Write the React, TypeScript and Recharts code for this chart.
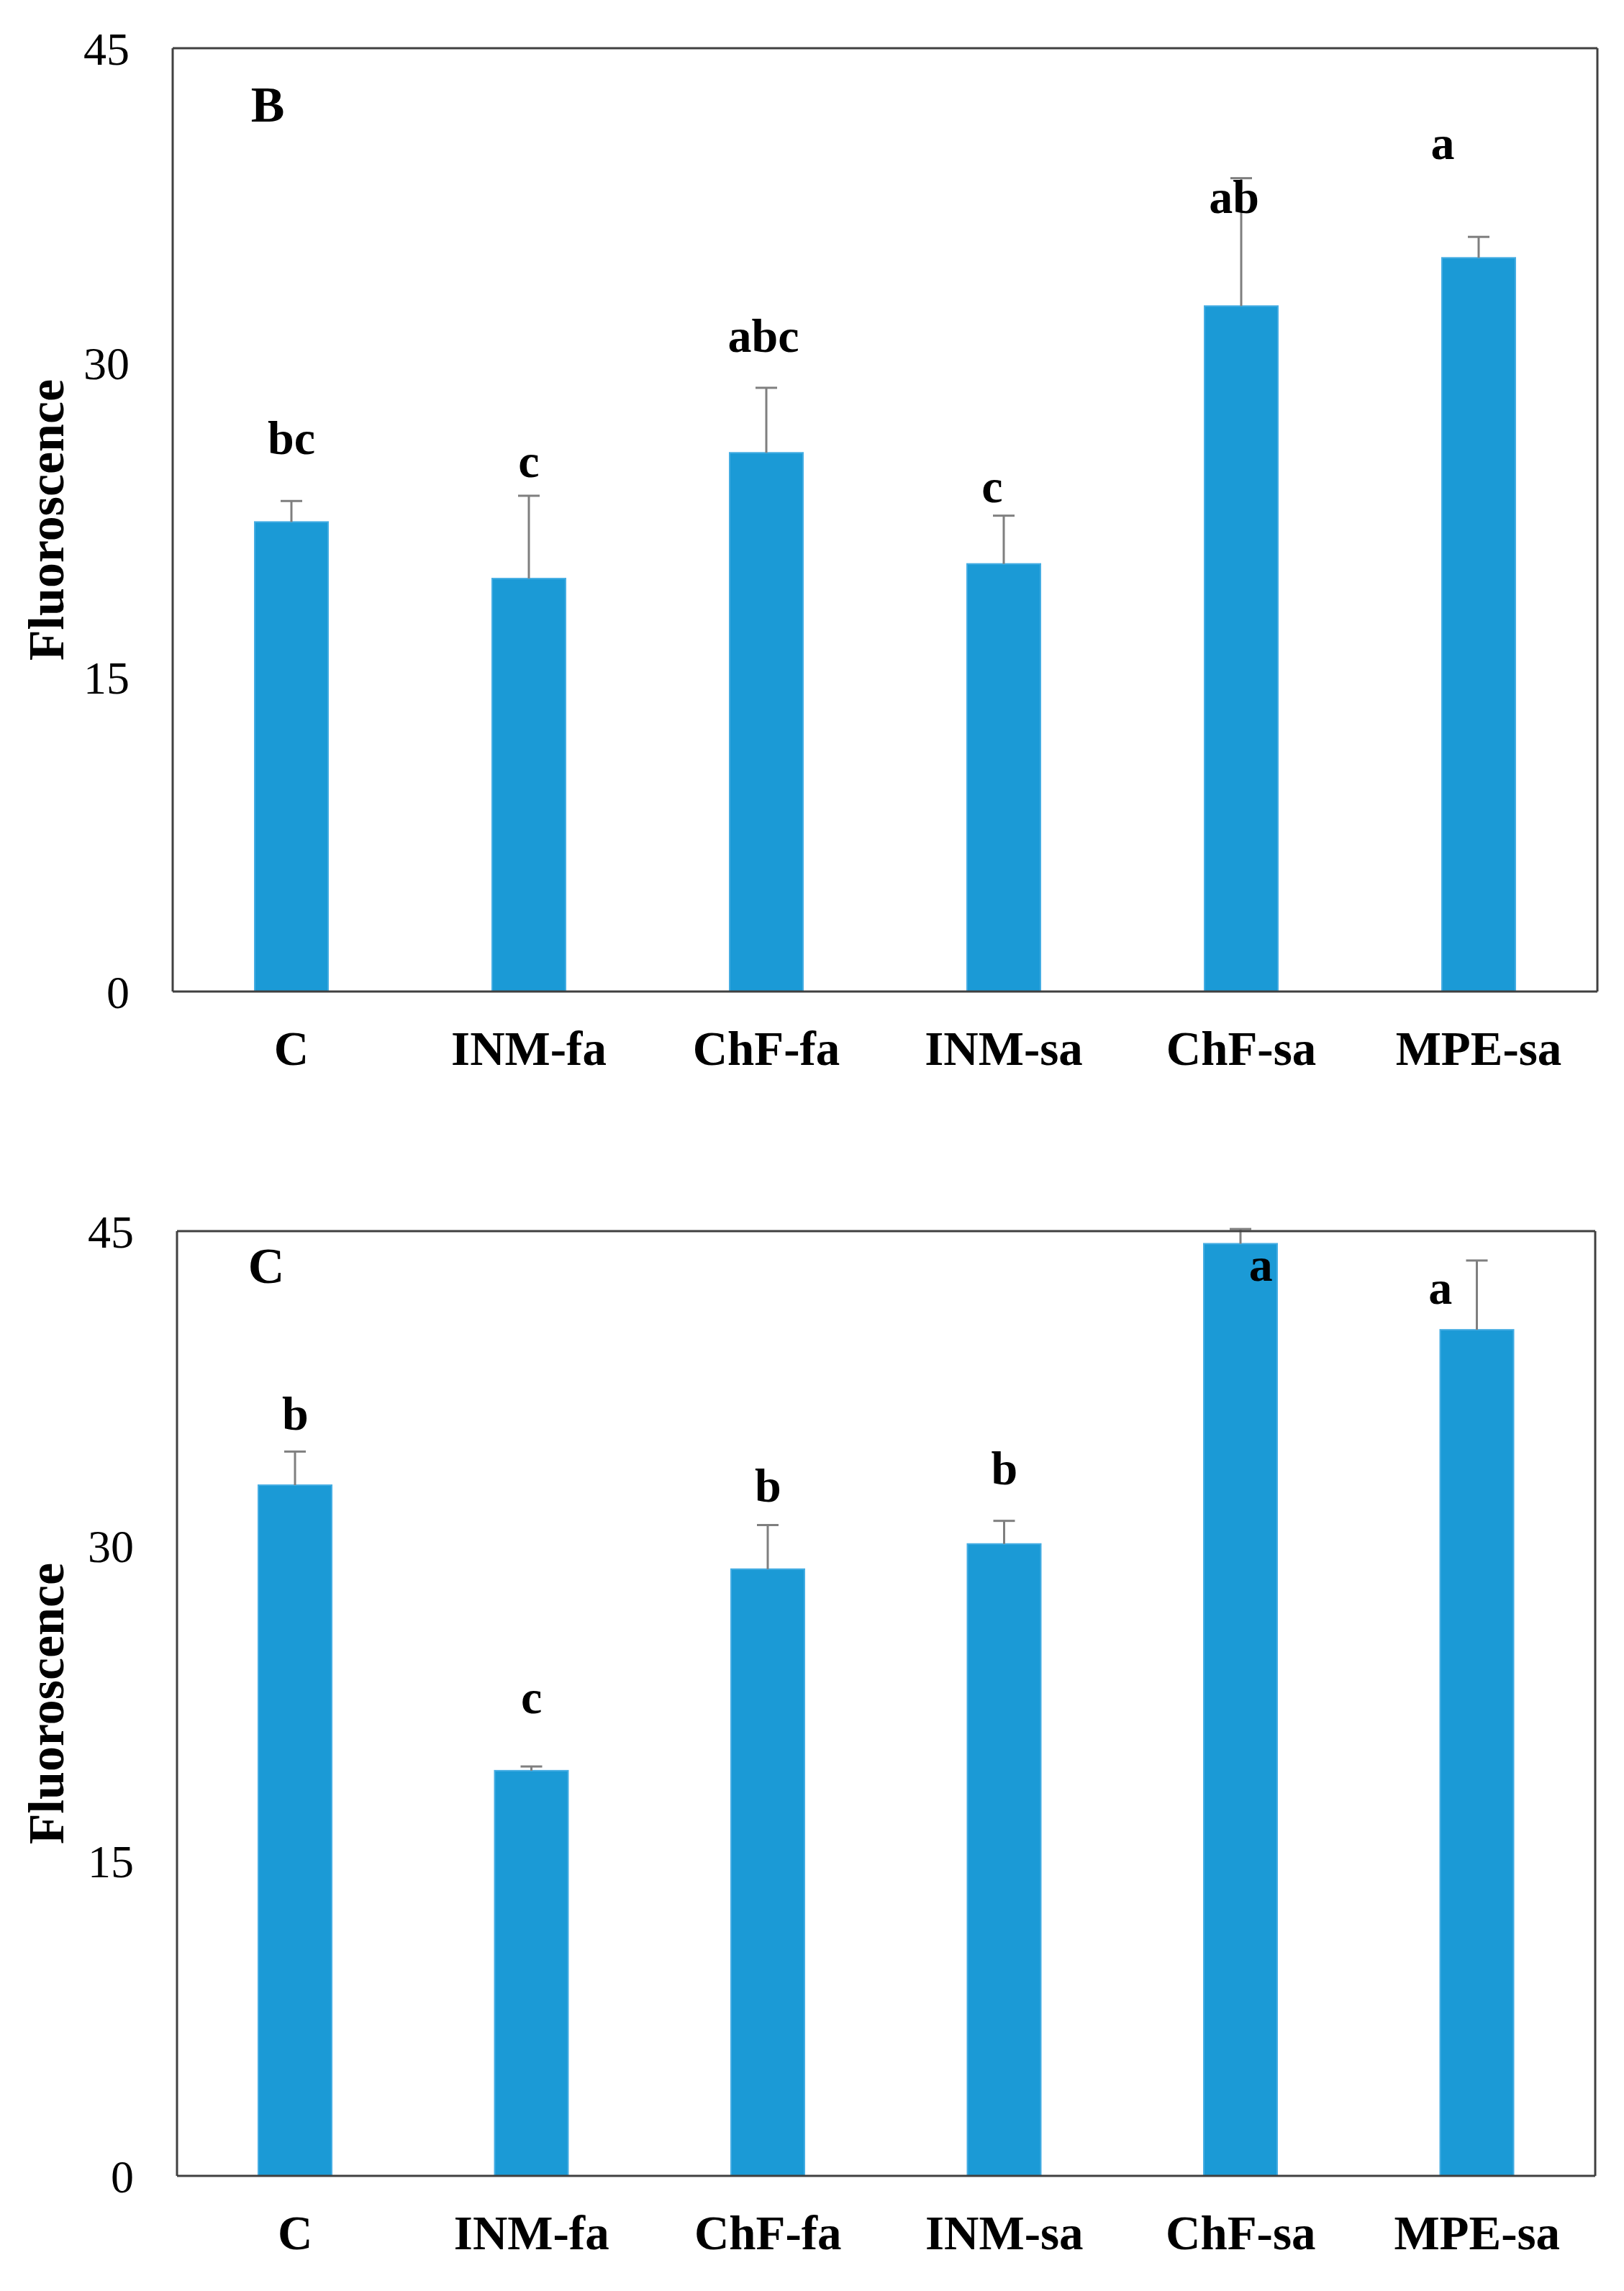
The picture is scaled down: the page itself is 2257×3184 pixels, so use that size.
/**
 * Fluoroscence bar charts (panels B and C) with one-sided error bars and letter groups
 */

import { ComposedChart, Bar, Line, XAxis, YAxis, LabelList } from 'recharts'

const categories = ['C', 'INM-fa', 'ChF-fa', 'INM-sa', 'ChF-sa', 'MPE-sa']
const yTicks = [0, 15, 30, 45]

// panel B
const meansB = [22.4, 19.7, 25.7, 20.4, 32.7, 35.0]
const sdB = [1.0, 3.95, 3.1, 2.3, 6.1, 1.0]
const lettersB = ['bc', 'c', 'abc', 'c', 'ab', 'a']
const letterYB = [26.4, 25.3, 31.3, 24.1, 37.9, 40.5]

// panel C
const meansC = [32.9, 19.3, 28.9, 30.1, 44.4, 40.3]
const sdC = [1.6, 0.2, 2.1, 1.1, 0.7, 3.3]
const lettersC = ['b', 'c', 'b', 'b', 'a', 'a']
const letterYC = [36.3, 22.8, 32.9, 33.7, 43.4, 42.3]

// horizontal nudge of each letter, px
const shiftB = [0, 0, -4, -16, -10, -50]
const shiftC = [0, 0, 0, 0, 28, -51]

const FONT = '"Liberation Serif", "Times New Roman", serif'
const BLUE = '#1B9AD6'
const AXIS = '#404040'

function buildRows(means: number[], sds: number[], letters: string[], letterY: number[]) {
  return categories.map((name, i) => ({
    name,
    value: means[i],
    sd: sds[i],
    letter: letters[i],
    letterY: letterY[i],
  }))
}

function BarWithError(props: any) {
  const { x, y, width, height, payload } = props
  const perUnit = height / payload.value
  const cx = x + width / 2
  const top = y - payload.sd * perUnit
  return (
    <g>
      <rect x={x} y={y} width={width} height={height} fill={BLUE} stroke="#45ADE3" strokeWidth={2} />
      <line x1={cx} y1={y} x2={cx} y2={top} stroke="#7f7f7f" strokeWidth={3} />
      <line x1={cx - 15} y1={top} x2={cx + 15} y2={top} stroke="#7f7f7f" strokeWidth={3} />
    </g>
  )
}

interface PanelProps {
  rows: ReturnType<typeof buildRows>
  shift: number[]
  top: number
  height: number
  margin: { top: number; right: number; left: number; bottom: number }
  yAxisWidth: number
  xAxisHeight: number
  panel: string
  panelPos: { left: number; top: number }
}

function Panel({ rows, shift, top, height, margin, yAxisWidth, xAxisHeight, panel, panelPos }: PanelProps) {
  return (
    <div style={{ position: 'absolute', left: 0, top, width: 2257, height }}>
      <ComposedChart width={2257} height={height} data={rows} margin={margin}>
        <XAxis
          dataKey="name"
          height={xAxisHeight}
          axisLine={{ stroke: AXIS, strokeWidth: 3 }}
          tickLine={false}
          tickSize={0}
          tickMargin={54}
          tick={{ fontFamily: FONT, fontSize: 67, fontWeight: 'bold', fill: '#000' }}
        />
        <XAxis
          xAxisId="top"
          dataKey="name"
          orientation="top"
          height={1}
          tick={false}
          tickLine={false}
          axisLine={{ stroke: AXIS, strokeWidth: 3 }}
        />
        <YAxis
          domain={[0, 45]}
          ticks={yTicks}
          width={yAxisWidth}
          axisLine={{ stroke: AXIS, strokeWidth: 3 }}
          tickLine={false}
          tickSize={0}
          tickMargin={60}
          tick={{ fontFamily: FONT, fontSize: 64, fill: '#000' }}
          label={{
            content: ({ viewBox }: any) => {
              const cx = 64
              const cy = viewBox.y + viewBox.height / 2
              return (
                <text
                  x={cx}
                  y={cy}
                  transform={`rotate(-90 ${cx} ${cy})`}
                  textAnchor="middle"
                  dominantBaseline="central"
                  fontFamily={FONT}
                  fontSize={70}
                  fontWeight="bold"
                  fill="#000"
                >
                  Fluoroscence
                </text>
              )
            },
          }}
        />
        <YAxis
          yAxisId="right"
          orientation="right"
          domain={[0, 45]}
          width={1}
          tick={false}
          tickLine={false}
          axisLine={{ stroke: AXIS, strokeWidth: 3 }}
        />
        <Bar dataKey="value" barSize={102} shape={BarWithError} isAnimationActive={false} />
        <Line
          dataKey="letterY"
          xAxisId="top"
          yAxisId="right"
          stroke="none"
          dot={false}
          activeDot={false}
          isAnimationActive={false}
        >
          <LabelList
            dataKey="letter"
            content={(p: any) => (
              <text
                x={p.x + shift[p.index]}
                y={p.y}
                textAnchor="middle"
                dominantBaseline="central"
                fontFamily={FONT}
                fontSize={66}
                fontWeight="bold"
                fill="#000"
              >
                {p.value}
              </text>
            )}
          />
        </Line>
      </ComposedChart>
      <div
        style={{
          position: 'absolute',
          left: panelPos.left,
          top: panelPos.top,
          fontFamily: FONT,
          fontSize: 70,
          fontWeight: 'bold',
          lineHeight: 1,
          transform: 'translate(-50%, -50%)',
        }}
      >
        {panel}
      </div>
    </div>
  )
}

export default function App() {
  const rowsB = buildRows(meansB, sdB, lettersB, letterYB)
  const rowsC = buildRows(meansC, sdC, lettersC, letterYC)
  return (
    <div style={{ position: 'absolute', left: 0, top: 0, width: 2257, height: 3184, background: '#fff' }}>
      <Panel
        rows={rowsB}
        shift={shiftB}
        top={0}
        height={1560}
        margin={{ top: 66, right: 36, left: 0, bottom: 0 }}
        yAxisWidth={240}
        xAxisHeight={182}
        panel="B"
        panelPos={{ left: 372, top: 146 }}
      />
      <Panel
        rows={rowsC}
        shift={shiftC}
        top={1600}
        height={1584}
        margin={{ top: 110, right: 39, left: 0, bottom: 0 }}
        yAxisWidth={246}
        xAxisHeight={160}
        panel="C"
        panelPos={{ left: 370, top: 160 }}
      />
    </div>
  )
}
